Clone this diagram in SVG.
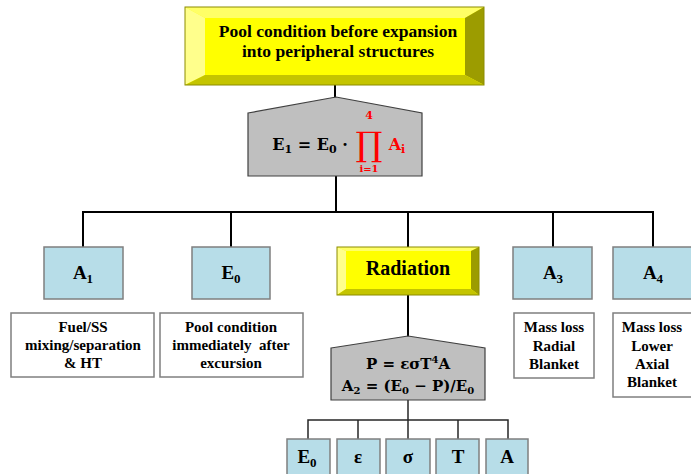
<svg xmlns="http://www.w3.org/2000/svg" width="691" height="474" viewBox="0 0 691 474">
<style>
.t{font-family:'Liberation Serif','Times New Roman',Times,serif;font-weight:bold;fill:#000;text-anchor:middle}
.m{font-family:'DejaVu Serif',serif;font-weight:bold;text-anchor:middle}
.blue{fill:#b7dde8;stroke:#7f7f7f;stroke-width:1.5}
.white{fill:#fff;stroke:#7f7f7f;stroke-width:1.5}
.gray{fill:#bfbfbf;stroke:#404040;stroke-width:1.2}
.ln{stroke:#000;stroke-width:2;fill:none}
.ln2{stroke:#262626;stroke-width:1.5;fill:none}
.bt{fill:#ffff66}.bl{fill:#ffff8c}.br{fill:#9c9c00}.bb{fill:#c4c400}.bf{fill:#ffff00}
</style>
<rect width="691" height="474" fill="#fff"/>
<g id="connectors">
<line class="ln" x1="335" y1="85" x2="335" y2="98"/>
<line class="ln" x1="336" y1="176" x2="336" y2="212"/>
<polyline class="ln" points="83,247 83,212 653,212 653,247"/>
<line class="ln" x1="231" y1="212" x2="231" y2="247"/>
<line class="ln" x1="408" y1="212" x2="408" y2="247"/>
<line class="ln" x1="553" y1="212" x2="553" y2="247"/>
<line class="ln" x1="408" y1="295" x2="408" y2="337"/>
<line class="ln2" x1="408" y1="400" x2="408" y2="439"/>
<polyline class="ln2" points="308,439 308,420 508,420 508,439"/>
<line class="ln2" x1="358" y1="420" x2="358" y2="439"/>
<line class="ln2" x1="458" y1="420" x2="458" y2="439"/>
</g>
<g id="top">
<rect class="bf" x="185" y="7" width="299" height="78"/>
<polygon class="bt" points="185,7 484,7 465,18 205,18"/>
<polygon class="bl" points="185,7 205,18 205,75 185,85"/>
<polygon class="br" points="484,7 484,85 465,75 465,18"/>
<polygon class="bb" points="185,85 205,75 465,75 484,85"/>
<rect x="185" y="7" width="299" height="78" fill="none" stroke="#8c8c00" stroke-width="1"/>
<text class="t" x="338" y="37" font-size="17.5">Pool condition before expansion</text>
<text class="t" x="338" y="57" font-size="17.5">into peripheral structures</text>
</g>
<g id="e1">
<polygon class="gray" points="248,113 336,97 422,113 422,176 248,176"/>
<text class="m" x="310" y="150" font-size="16">E<tspan font-size="11" dy="3">1</tspan><tspan dy="-3"> = E</tspan><tspan font-size="11" dy="3">0</tspan><tspan dy="-3"> ·</tspan></text>
<text x="369" y="156" font-size="34" fill="#ff0000" text-anchor="middle" style="font-family:'DejaVu Serif',serif;font-weight:400">∏</text>
<text class="m" x="369" y="119" font-size="11" fill="#ff0000">4</text>
<text class="m" x="369" y="172" font-size="10" fill="#ff0000">i=1</text>
<text class="m" x="397" y="150" font-size="16" fill="#ff0000">A<tspan font-size="11" dy="3">i</tspan></text>
</g>
<g id="a1">
<rect class="blue" x="44" y="247" width="79" height="52"/>
<text class="t" x="83" y="279" font-size="19">A<tspan font-size="13" dy="4">1</tspan></text>
</g>
<g id="e0">
<rect class="blue" x="192" y="247" width="78" height="52"/>
<text class="t" x="231" y="279" font-size="19">E<tspan font-size="13" dy="4">0</tspan></text>
</g>
<g id="radiation">
<rect class="bf" x="337" y="247" width="142" height="48"/>
<polygon class="bt" points="337,247 479,247 471,251 346,251"/>
<polygon class="bl" points="337,247 346,251 346,289 337,295"/>
<polygon class="br" points="479,247 479,295 471,289 471,251"/>
<polygon class="bb" points="337,295 346,289 471,289 479,295"/>
<rect x="337" y="247" width="142" height="48" fill="none" stroke="#8c8c00" stroke-width="1"/>
<text class="t" x="408" y="275" font-size="20">Radiation</text>
</g>
<g id="a3">
<rect class="blue" x="513" y="247" width="79" height="52"/>
<text class="t" x="553" y="279" font-size="19">A<tspan font-size="13" dy="4">3</tspan></text>
</g>
<g id="a4">
<rect class="blue" x="613" y="247" width="80" height="52"/>
<text class="t" x="653" y="279" font-size="19">A<tspan font-size="13" dy="4">4</tspan></text>
</g>
<g id="desc1">
<rect class="white" x="11" y="313" width="143" height="64"/>
<text class="t" x="83" y="332" font-size="15">Fuel/SS</text>
<text class="t" x="83" y="350" font-size="15">mixing/separation</text>
<text class="t" x="83" y="368" font-size="15">&amp; HT</text>
</g>
<g id="desc2">
<rect class="white" x="160" y="313" width="143" height="64"/>
<text class="t" x="231" y="332" font-size="15">Pool condition</text>
<text class="t" x="231" y="350" font-size="15" xml:space="preserve">immediately  after</text>
<text class="t" x="231" y="368" font-size="15">excursion</text>
</g>
<g id="desc3">
<rect class="white" x="514" y="313" width="80" height="65"/>
<text class="t" x="554" y="332" font-size="15">Mass loss</text>
<text class="t" x="554" y="351" font-size="15">Radial</text>
<text class="t" x="554" y="369" font-size="15">Blanket</text>
</g>
<g id="desc4">
<rect class="white" x="613" y="313" width="80" height="84"/>
<text class="t" x="652" y="332" font-size="15">Mass loss</text>
<text class="t" x="652" y="351" font-size="15">Lower</text>
<text class="t" x="652" y="369" font-size="15">Axial</text>
<text class="t" x="652" y="387" font-size="15">Blanket</text>
</g>
<g id="a2">
<polygon class="gray" points="331,348 408,336 485,348 485,400 331,400"/>
<text class="m" x="408" y="369" font-size="15">P = εσT<tspan font-size="10" dy="-6">4</tspan><tspan dy="6">A</tspan></text>
<text class="m" x="408" y="391" font-size="15">A<tspan font-size="10" dy="3">2</tspan><tspan dy="-3"> = (E</tspan><tspan font-size="10" dy="3">0</tspan><tspan dy="-3"> − P)/E</tspan><tspan font-size="10" dy="3">0</tspan></text>
</g>
<g id="p-e0">
<rect class="blue" x="287" y="439" width="43" height="40"/>
<text class="t" x="307" y="463" font-size="19">E<tspan font-size="13" dy="4">0</tspan></text>
</g>
<g id="p-eps">
<rect class="blue" x="337" y="439" width="43" height="40"/>
<text class="t" x="358" y="463" font-size="19">ε</text>
</g>
<g id="p-sigma">
<rect class="blue" x="386" y="439" width="44" height="40"/>
<text class="t" x="408" y="463" font-size="19">σ</text>
</g>
<g id="p-t">
<rect class="blue" x="436" y="439" width="43" height="40"/>
<text class="t" x="458" y="463" font-size="19">T</text>
</g>
<g id="p-a">
<rect class="blue" x="486" y="439" width="42" height="40"/>
<text class="t" x="507" y="463" font-size="19">A</text>
</g>
</svg>
